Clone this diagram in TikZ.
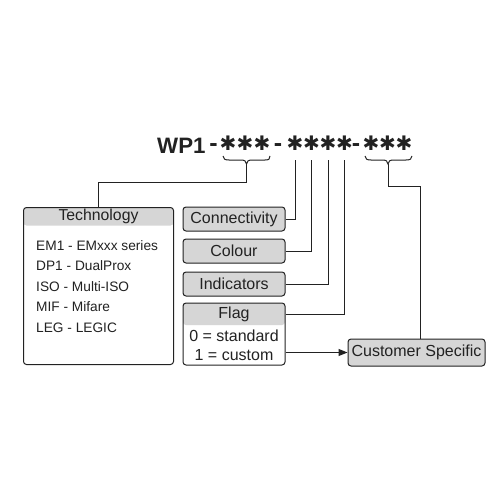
\documentclass[tikz,border=0pt]{standalone}
\usepackage{fontspec}
\setmainfont{Liberation Sans}
\newfontfamily\starfont{DejaVu Sans}
\usetikzlibrary{arrows.meta}
\definecolor{ink}{HTML}{222222}
\definecolor{hdr}{HTML}{D6D6D6}
\tikzset{
  box/.style={draw=ink, line width=1pt, rounded corners=3pt, fill=hdr, minimum width=102pt, minimum height=24pt, inner sep=0pt, font=\fontsize{16}{18}\selectfont, text=ink},
  panel/.style={draw=ink, line width=1pt, rounded corners=3pt, fill=white, inner sep=0pt,
    path picture={\fill[hdr] (path picture bounding box.north west) rectangle ([yshift=-#1]path picture bounding box.north east);}},
  lbl/.style={inner sep=0pt, text=ink, font=\fontsize{16}{18}\selectfont},
  item/.style={inner sep=0pt, anchor=base west, text=ink, font=\fontsize{13.7}{15}\selectfont},
  ast/.style={inner sep=0pt, text=ink, font=\starfont\fontsize{20}{22}\selectfont},
  dsh/.style={inner sep=0pt, anchor=base, text=ink, font=\fontsize{25}{28}\selectfont\bfseries},
  wire/.style={draw=ink, line width=1pt},
}
\begin{document}
\begin{tikzpicture}[x=1pt,y=-1pt]
\useasboundingbox (0,0) rectangle (500,500);
% title WP1-***-****-***
\node[dsh, anchor=base west, font=\fontsize{22.3}{26}\selectfont\bfseries] (wp) at (157,153) {WP1};
\node[dsh] (h1) at (213.5,151) {-};
\node[ast] (a1) at (228,143.5) {✱};
\node[ast] (a2) at (245,143.5) {✱};
\node[ast] (a3) at (262,143.5) {✱};
\node[dsh] (h2) at (278,151) {-};
\node[ast] (a4) at (295,143.5) {✱};
\node[ast] (a5) at (311.5,143.5) {✱};
\node[ast] (a6) at (328,143.5) {✱};
\node[ast] (a7) at (344.5,143.5) {✱};
\node[dsh] (h3) at (356,151) {-};
\node[ast] (a8) at (371,143.5) {✱};
\node[ast] (a9) at (387.5,143.5) {✱};
\node[ast] (a10) at (404,143.5) {✱};
% technology panel
\node[panel=18pt, minimum width=150pt, minimum height=157pt, anchor=north west] (tech) at (23,207) {};
\node[lbl, font=\fontsize{15.8}{18}\selectfont] (techh) at ([yshift=-9.5pt]tech.north) {Technology};
\node[item] (t1) at (36,250) {EM1 - EMxxx series};
\node[item] (t2) at (36,270.5) {DP1 - DualProx};
\node[item] (t3) at (36,291) {ISO - Multi-ISO};
\node[item] (t4) at (36,311.5) {MIF - Mifare};
\node[item] (t5) at (36,332) {LEG - LEGIC};
% right boxes
\node[box] (conn) at (234,219) {Connectivity};
\node[box] (col) at (234,251) {Colour};
\node[box] (ind) at (234,284) {Indicators};
\node[panel=22pt, minimum width=102pt, minimum height=62pt] (flag) at (234,334) {};
\node[lbl] (flagh) at (234,314) {Flag};
\node[lbl] (f0) at (234,336) {0 = standard};
\node[lbl] (f1) at (234,355) {1 = custom};
\node[box, minimum width=137pt, minimum height=27pt] (cust) at (416.5,352.5) {Customer Specific};
% braces
\coordinate (b1) at (246.5,164);
\coordinate (b2) at (388,164);
\draw[wire] (223,156) .. controls (223,159) and (225,160) .. (229,160) -- (240.5,160) .. controls (244.5,160) and (246.5,161) .. (b1) .. controls (246.5,161) and (248.5,160) .. (252.5,160) -- (265,160) .. controls (269,160) and (270,159) .. (270,156);
\draw[wire] (365,156) .. controls (365,159) and (367,160) .. (371,160) -- (382,160) .. controls (386,160) and (388,161) .. (b2) .. controls (388,161) and (390,160) .. (394,160) -- (406,160) .. controls (410,160) and (412,159) .. (412,156);
\coordinate (k1) at (246.5,182);
\coordinate (k2) at (420,186);
\draw[wire] (b1) -- (k1) -| (tech.north);
\draw[wire] (b2) -- (b2 |- k2) -- (k2) -- (k2 |- cust.north);
% field wires
\coordinate (s1) at (295,160);
\coordinate (s2) at (311.5,160);
\coordinate (s3) at (328,160);
\coordinate (s4) at (344.5,160);
\draw[wire] (conn.east) -| (s1);
\draw[wire] (col.east) -| (s2);
\draw[wire] (ind.east) -| (s3);
\draw[wire] (flag.east |- flagh) -| (s4);
\draw[wire, -{Triangle[length=9pt,width=7pt]}] (flag.east |- cust.west) -- (cust.west);
\end{tikzpicture}
\end{document}
